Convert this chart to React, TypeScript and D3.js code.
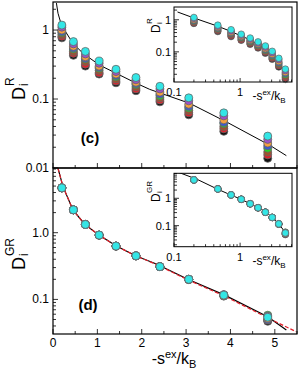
import * as d3 from 'd3';
import React from 'react';

// -s^ex/k_B of the ten data columns
const sValues = [0.2, 0.46, 0.73, 1.04, 1.42, 1.87, 2.41, 3.06, 3.85, 4.84];

// D_i^R, one array per species (listed in draw order, bottom to top)
const rBlack = [0.77, 0.43, 0.3, 0.23, 0.172, 0.132, 0.091, 0.059, 0.034, 0.0138];
const rRed = [0.81, 0.46, 0.32, 0.24, 0.182, 0.14, 0.097, 0.063, 0.037, 0.0155];
const rBrown = [0.86, 0.49, 0.35, 0.26, 0.195, 0.15, 0.104, 0.068, 0.04, 0.017];
const rGreen = [0.92, 0.53, 0.38, 0.28, 0.21, 0.162, 0.112, 0.074, 0.044, 0.0193];
const rBlue = [0.95, 0.55, 0.39, 0.29, 0.22, 0.168, 0.118, 0.078, 0.046, 0.021];
const rOrange = [1.0, 0.58, 0.41, 0.3, 0.23, 0.175, 0.126, 0.084, 0.05, 0.023];
const rPurple = [1.1, 0.63, 0.45, 0.33, 0.25, 0.19, 0.14, 0.094, 0.057, 0.026];
const rCyan = [1.18, 0.68, 0.49, 0.355, 0.27, 0.205, 0.153, 0.104, 0.063, 0.029];

// D_i^GR, same species
const grBlack = [4.7, 2.2, 1.33, 0.92, 0.63, 0.45, 0.31, 0.199, 0.113, 0.047];
const grRed = [4.7, 2.2, 1.33, 0.92, 0.63, 0.45, 0.31, 0.2, 0.115, 0.049];
const grBrown = [4.7, 2.2, 1.33, 0.92, 0.63, 0.45, 0.31, 0.2, 0.114, 0.05];
const grGreen = [4.7, 2.2, 1.33, 0.92, 0.63, 0.45, 0.31, 0.201, 0.117, 0.058];
const grBlue = [4.7, 2.2, 1.33, 0.92, 0.63, 0.45, 0.31, 0.199, 0.112, 0.05];
const grOrange = [4.7, 2.2, 1.33, 0.92, 0.63, 0.45, 0.31, 0.198, 0.114, 0.052];
const grPurple = [4.7, 2.2, 1.33, 0.92, 0.63, 0.45, 0.31, 0.2, 0.118, 0.056];
const grCyan = [4.7, 2.2, 1.33, 0.92, 0.63, 0.45, 0.31, 0.2, 0.116, 0.054];

const colors = ['#111111', '#e3202a', '#a0522d', '#22dd22', '#3a5bd9', '#f4a040', '#a050c8', '#33e6e6'];
const rSeries = [rBlack, rRed, rBrown, rGreen, rBlue, rOrange, rPurple, rCyan];
const grSeries = [grBlack, grRed, grBrown, grGreen, grBlue, grOrange, grPurple, grCyan];

// fit curves
const fitRS = [0.077, 0.113, 0.19, 0.45, 0.676, 1.05, 1.43, 1.88, 2.18, 3.08, 3.9, 4.88, 5.26];
const fitRD = [2.46, 1.75, 1.18, 0.64, 0.46, 0.31, 0.235, 0.169, 0.138, 0.0867, 0.0469, 0.0215, 0.0151];
const fitGRS = [0.113, 0.225, 0.45, 0.714, 1.036, 1.43, 1.86, 2.33, 3.04, 3.87, 4.84, 5.26];
const fitGRD = [9.2, 4.9, 2.19, 1.34, 0.92, 0.63, 0.452, 0.339, 0.2, 0.116, 0.055, 0.0348];
const fitGR2S = [0.113, 0.225, 0.45, 0.714, 1.036, 1.43, 1.86, 2.33, 3.04, 3.87, 4.84, 5.48];
const fitGR2D = [9.2, 4.9, 2.19, 1.34, 0.92, 0.63, 0.452, 0.335, 0.196, 0.112, 0.053, 0.0328];

const xTicks = [0, 1, 2, 3, 4, 5];
const FONT = 'Liberation Sans, Arial, sans-serif';

type Pt = { s: number; d: number };
const zip = (s: number[], d: number[]): Pt[] => s.map((v, i) => ({ s: v, d: d[i] }));

function LogYTicks({ y, x0, lo, hi }: { y: d3.ScaleLogarithmic<number, number>; x0: number; lo: number; hi: number }) {
  const ticks = y.ticks();
  return (
    <g stroke="#000" strokeWidth={0.8}>
      {ticks.filter((t) => t >= lo && t <= hi).map((t, i) => {
        const major = Math.abs(Math.log10(t) - Math.round(Math.log10(t))) < 1e-6;
        return <line key={i} x1={x0} x2={x0 + (major ? 5 : 3)} y1={y(t)} y2={y(t)} />;
      })}
    </g>
  );
}

function Inset({ top, bottom, yDomain, series, fit, yLabel, r }: any) {
  const left = 174, right = 292;
  const x = d3.scaleLog().domain([0.1, 6.1]).range([left, right]);
  const y = d3.scaleLog().domain(yDomain).range([bottom, top]);
  const line = d3.line<Pt>().x((d) => x(d.s)).y((d) => y(d.d));
  const id = `clip${Math.round(top)}`;
  const xt = x.ticks();
  return (
    <g>
      <defs>
        <clipPath id={id}><rect x={left} y={top} width={right - left} height={bottom - top} /></clipPath>
      </defs>
      <rect x={left} y={top} width={right - left} height={bottom - top} fill="#fff" stroke="#000" strokeWidth={1} />
      <g stroke="#000" strokeWidth={0.8}>
        {xt.map((t, i) => {
          const major = Math.abs(Math.log10(t) - Math.round(Math.log10(t))) < 1e-6;
          return <line key={i} x1={x(t)} x2={x(t)} y1={bottom} y2={bottom - (major ? 4 : 2.5)} />;
        })}
      </g>
      <LogYTicks y={y} x0={left} lo={yDomain[0]} hi={yDomain[1]} />
      <path d={line(fit) || ''} fill="none" stroke="#000" strokeWidth={1} clipPath={`url(#${id})`} />
      {series.map((vals: number[], si: number) => (
        <g key={si}>
          {vals.map((v, i) => (
            <circle key={i} cx={x(sValues[i])} cy={y(v)} r={r} fill={colors[si]} stroke="#666" strokeWidth={0.7} />
          ))}
        </g>
      ))}
      <g fontFamily={FONT} fontSize={11}>
        {[0.1, 1].map((t) => (
          <text key={t} x={x(t)} y={bottom + 14} textAnchor="middle">{t}</text>
        ))}
        {[0.1, 1].map((t) => (
          <text key={'y' + t} x={left - 3} y={y(t) + 4} textAnchor="end">{t}</text>
        ))}
        <text x={269} y={bottom + 18} textAnchor="middle" fontSize={12}>
          -s<tspan dy={-5} fontSize={8}>ex</tspan>
          <tspan dy={5} fontSize={12}>/k</tspan>
          <tspan dy={3} fontSize={8}>B</tspan>
        </text>
      </g>
      {yLabel}
    </g>
  );
}

export default function App() {
  const W = 300, H = 374;
  const left = 53, right = 297;
  const x = d3.scaleLinear().domain([0, 5.5]).range([left, right]);
  const yR = d3.scaleLog().domain([0.01, 2.55]).range([168, 2]);
  const yGR = d3.scaleLog().domain([0.0303, 9.33]).range([334, 168]);
  const lineR = d3.line<Pt>().x((d) => x(d.s)).y((d) => yR(d.d));
  const lineGR = d3.line<Pt>().x((d) => x(d.s)).y((d) => yGR(d.d));
  const halfTicks = d3.range(0, 5.51, 0.5);

  const xAxisTicks = (yb: number) => (
    <g stroke="#000" strokeWidth={0.8}>
      {halfTicks.map((t, i) => (
        <line key={i} x1={x(t)} x2={x(t)} y1={yb} y2={yb - (Number.isInteger(t) ? 5 : 3)} />
      ))}
    </g>
  );

  return (
    <svg width={W} height={H} style={{ position: 'absolute', left: 0, top: 0, background: '#fff' }}>
      <defs>
        <clipPath id="clipC"><rect x={left} y={2} width={right - left} height={166} /></clipPath>
        <clipPath id="clipD"><rect x={left} y={168} width={right - left} height={166} /></clipPath>
      </defs>

      {/* panel (c) */}
      <path d={lineR(zip(fitRS, fitRD)) || ''} fill="none" stroke="#000" strokeWidth={1} clipPath="url(#clipC)" />
      {rSeries.map((vals, si) => (
        <g key={si}>
          {vals.map((v, i) => (
            <circle key={i} cx={x(sValues[i])} cy={yR(v)} r={4} fill={colors[si]} stroke="#666" strokeWidth={0.8} />
          ))}
        </g>
      ))}
      {xAxisTicks(168)}
      <LogYTicks y={yR} x0={left} lo={0.01} hi={2.55} />

      {/* panel (d) */}
      <path d={lineGR(zip(fitGRS, fitGRD)) || ''} fill="none" stroke="#000" strokeWidth={1.2} clipPath="url(#clipD)" />
      <path d={lineGR(zip(fitGR2S, fitGR2D)) || ''} fill="none" stroke="#e3202a" strokeWidth={1.2} strokeDasharray="4,2" clipPath="url(#clipD)" />
      {grSeries.map((vals, si) => (
        <g key={si}>
          {vals.map((v, i) => (
            <circle key={i} cx={x(sValues[i])} cy={yGR(v)} r={4} fill={colors[si]} stroke="#666" strokeWidth={0.8} />
          ))}
        </g>
      ))}
      {xAxisTicks(334)}
      <LogYTicks y={yGR} x0={left} lo={0.0303} hi={9.33} />

      {/* frames */}
      <rect x={left} y={2} width={right - left} height={166} fill="none" stroke="#000" strokeWidth={1.2} />
      <rect x={left} y={168} width={right - left} height={166} fill="none" stroke="#000" strokeWidth={1.2} />

      {/* insets */}
      <Inset
        top={7}
        bottom={82}
        yDomain={[0.0115, 2.5]}
        series={rSeries}
        fit={zip(fitRS, fitRD).filter((d) => d.s >= 0.1 && d.s <= 4.9)}
        r={3.3}
        yLabel={
          <g transform="translate(160,33) rotate(-90)" fontFamily={FONT}>
            <text x={0} y={0} fontSize={12}>D</text>
            <text x={9} y={2} fontSize={8}>i</text>
            <text x={9} y={-8} fontSize={8}>R</text>
          </g>
        }
      />
      <Inset
        top={173.3}
        bottom={246.7}
        yDomain={[0.017, 8.2]}
        series={grSeries}
        fit={zip(fitGRS, fitGRD).filter((d) => d.s >= 0.1 && d.s <= 4.9)}
        r={3.3}
        yLabel={
          <g transform="translate(160,202) rotate(-90)" fontFamily={FONT}>
            <text x={0} y={0} fontSize={12}>D</text>
            <text x={9} y={2} fontSize={8}>i</text>
            <text x={9} y={-8} fontSize={8}>GR</text>
          </g>
        }
      />

      {/* tick labels */}
      <g fontFamily={FONT} fontSize={12}>
        {[
          { v: 1, t: '1' },
          { v: 0.1, t: '0.1' },
          { v: 0.01, t: '0.01' },
        ].map((d) => (
          <text key={d.t} x={49} y={yR(d.v) + 4} textAnchor="end">{d.t}</text>
        ))}
        {[
          { v: 1, t: '1.0' },
          { v: 0.1, t: '0.1' },
        ].map((d) => (
          <text key={'g' + d.t} x={49} y={yGR(d.v) + 4} textAnchor="end">{d.t}</text>
        ))}
        {xTicks.map((t) => (
          <text key={t} x={x(t)} y={347} textAnchor="middle">{t}</text>
        ))}
      </g>

      {/* axis titles */}
      <g fontFamily={FONT}>
        <text x={174} y={364} textAnchor="middle" fontSize={16}>
          -s<tspan dy={-6} fontSize={11}>ex</tspan>
          <tspan dy={6} fontSize={16}>/k</tspan>
          <tspan dy={4} fontSize={11}>B</tspan>
        </text>
        <g transform="translate(25,100) rotate(-90)">
          <text x={0} y={0} fontSize={18}>D</text>
          <text x={14} y={3} fontSize={12}>i</text>
          <text x={14} y={-11} fontSize={12}>R</text>
        </g>
        <g transform="translate(25,270) rotate(-90)">
          <text x={0} y={0} fontSize={18}>D</text>
          <text x={14} y={3} fontSize={12}>i</text>
          <text x={14} y={-11} fontSize={12}>GR</text>
        </g>
        <text x={90} y={143} textAnchor="middle" fontSize={15} fontWeight="bold">(c)</text>
        <text x={88} y={310} textAnchor="middle" fontSize={15} fontWeight="bold">(d)</text>
      </g>
    </svg>
  );
}
